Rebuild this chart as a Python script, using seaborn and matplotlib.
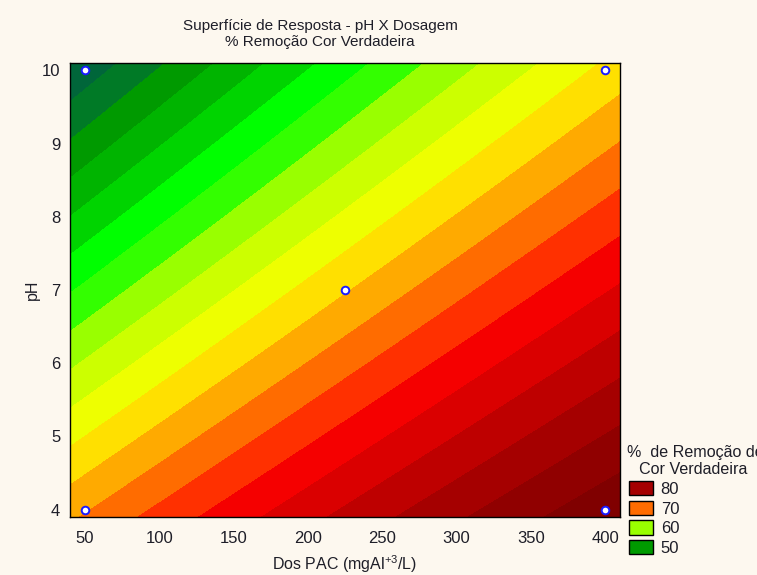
import numpy as np
import pandas as pd
import matplotlib
matplotlib.use("Agg")
import matplotlib.pyplot as plt
from matplotlib.patches import Patch
import seaborn as sns

# Experimental design (2^2 factorial + centre point)
dosagem = [50, 400, 50, 400, 225]          # Dos PAC (mgAl+3/L)
ph = [10, 10, 4, 4, 7]
remocao = [47.0, 66.5, 69.8, 85.2, 67.8]   # % remoção cor verdadeira

# Contour levels and fill colours (one colour per band)
levels = [44, 46, 48, 50, 52, 54, 56, 58, 60, 62, 64, 66,
          68, 70, 72, 74, 76, 78, 80, 82, 84, 86, 88]
band_colors = ["#005A40", "#00663A", "#007A26", "#009A00", "#00B400",
               "#00D400", "#00FF00", "#33FF00", "#99FF00", "#CCFF00",
               "#EEFF00", "#FFE000", "#FFAA00", "#FF6C00", "#FF3000",
               "#F50000", "#DA0000", "#BE0000", "#A50000", "#900000",
               "#800000", "#700000"]

legend_levels = [80, 70, 60, 50]
x_ticks = [50, 100, 150, 200, 250, 300, 350, 400]
y_ticks = [4, 5, 6, 7, 8, 9, 10]

bg = "#FDF8EF"
sns.set_theme(style="white")
plt.rcParams["font.family"] = ["Liberation Sans", "DejaVu Sans"]
plt.rcParams["mathtext.default"] = "regular"
text_color = "#1E1E28"

df = pd.DataFrame({"dosagem": dosagem, "ph": ph, "remocao": remocao})

# Response surface: z = b0 + b1*x + b2*y + b12*x*y + b11*x^2
A = np.column_stack([np.ones(len(df)), df.dosagem, df.ph,
                     df.dosagem * df.ph, df.dosagem ** 2])
coef, *_ = np.linalg.lstsq(A, df.remocao.values, rcond=None)

gx = np.linspace(40, 410, 300)
gy = np.linspace(3.9, 10.1, 300)
X, Y = np.meshgrid(gx, gy)
Z = (coef[0] + coef[1] * X + coef[2] * Y + coef[3] * X * Y
     + coef[4] * X ** 2)

fig = plt.figure(figsize=(7.57, 5.75), dpi=100, facecolor=bg)
ax = fig.add_axes([70 / 757, 1 - 517 / 575, 550 / 757, 454 / 575])
ax.set_facecolor(bg)

ax.contourf(X, Y, Z, levels=levels, colors=band_colors, antialiased=False)

sns.scatterplot(data=df, x="dosagem", y="ph", ax=ax, marker="o", s=30,
                color="white", edgecolor="#1A1AFF", linewidth=1.4,
                legend=False, zorder=5, clip_on=False)

ax.set_xlim(40, 410)
ax.set_ylim(3.9, 10.1)
ax.set_xticks(x_ticks)
ax.set_yticks(y_ticks)
ax.tick_params(direction="in", length=4, width=1, color="black",
               top=True, right=True, labelsize=12, labelcolor=text_color)
ax.tick_params(axis="x", pad=10)
ax.tick_params(axis="y", pad=7)
for s in ax.spines.values():
    s.set_color("black")
    s.set_linewidth(1.0)

ax.set_xlabel("Dos PAC (mgAl$^{+3}$/L)", fontsize=11.5, color=text_color,
              labelpad=5)
ax.set_ylabel("pH", fontsize=11.5, color=text_color, labelpad=1)

fig.text(320 / 757, 1 - 34 / 575,
         "Superfície de Resposta - pH X Dosagem\n% Remoção Cor Verdadeira",
         ha="center", va="center", fontsize=11, color=text_color,
         linespacing=1.1)

# Legend block
fig.text(627 / 757, 1 - 452 / 575, "%  de Remoção de",
         ha="left", va="center", fontsize=11.6, color=text_color)
fig.text(693 / 757, 1 - 470 / 575, "Cor Verdadeira",
         ha="center", va="center", fontsize=11.6, color=text_color)
palette = dict(zip(levels[:-1], band_colors))
handles = [Patch(facecolor=palette[lv], edgecolor="black", linewidth=1.0)
           for lv in legend_levels]
fig.legend(handles, [str(lv) for lv in legend_levels],
           loc="upper left", bbox_to_anchor=(629 / 757, 1 - 481 / 575),
           frameon=False, fontsize=12, handlelength=1.45, handleheight=0.95,
           labelspacing=0.22, handletextpad=0.45, borderpad=0.0,
           borderaxespad=0.0, labelcolor=text_color)

fig.savefig("out.png", dpi=100, facecolor=bg)
